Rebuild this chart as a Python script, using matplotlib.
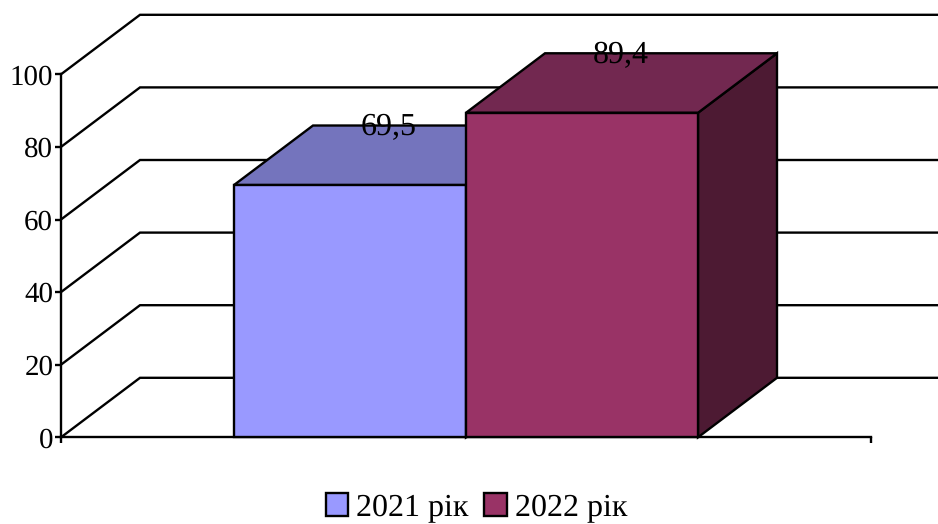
import matplotlib
matplotlib.use("Agg")
import matplotlib.pyplot as plt
from matplotlib.patches import Polygon, Rectangle

series = ["2021 рік", "2022 рік"]
values = [69.5, 89.4]
labels = ["69,5", "89,4"]
yticks = [0, 20, 40, 60, 80, 100]
front = ["#9999ff", "#993366"]
top = ["#7474bd", "#722850"]
side = ["#4d4d80", "#4d1a33"]

W, H = 938, 524
plt.rcParams["font.family"] = ["Liberation Serif", "DejaVu Serif"]
plt.rcParams["text.hinting"] = "no_hinting"
plt.rcParams["text.hinting_factor"] = 1
fig = plt.figure(figsize=(W / 100, H / 100), dpi=100)
ax = fig.add_axes([61 / W, 1 - 437.3 / H, 810 / W, 363 / H])
ax.set_xlim(0, 1)
ax.set_ylim(0, 100)
ax.patch.set_visible(False)

dx = 79 / 810
dy = 59.5 / 363 * 100
bw = 232 / 810
x0 = 0.5 - bw
LW = 1.7

for s in ["top", "right"]:
    ax.spines[s].set_visible(False)
for s in ["left", "bottom"]:
    ax.spines[s].set_linewidth(LW)
ax.set_yticks(yticks)
ax.set_xticks([0, 1])
ax.set_xticklabels([])
ax.tick_params(axis="y", labelsize=21, length=4, width=LW, pad=1.6)
ax.tick_params(axis="x", length=4, width=LW, direction="out")

for t in yticks:
    ax.plot([0, dx, 1 + dx], [t, t + dy, t + dy], color="black", lw=LW, clip_on=False,
            solid_joinstyle="miter", zorder=1)

for i, (v, lab) in enumerate(zip(values, labels)):
    l = x0 + i * bw
    r = l + bw
    z = 3 + i
    ax.add_patch(Polygon([(r, 0), (r + dx, dy), (r + dx, v + dy), (r, v)], closed=True,
                         fc=side[i], ec="black", lw=LW, clip_on=False, zorder=z, joinstyle="miter"))
    ax.add_patch(Polygon([(l, v), (l + dx, v + dy), (r + dx, v + dy), (r, v)], closed=True,
                         fc=top[i], ec="black", lw=LW, clip_on=False, zorder=z, joinstyle="miter"))
    ax.add_patch(Rectangle((l, 0), bw, v, fc=front[i], ec="black", lw=LW, clip_on=False,
                           zorder=z, joinstyle="miter"))
    ax.text(l + bw / 2 + dx / 2 - 1 / 810, v + dy * 0.965, lab, ha="center", va="center", fontsize=23,
            zorder=10, clip_on=False)

handles = [Rectangle((0, 0), 1, 1, fc=c, ec="black", lw=LW) for c in front]
fig.legend(handles, series, loc="center", bbox_to_anchor=(476.5 / W, 1 - 508 / H), ncol=2, frameon=False,
           fontsize=23, handlelength=0.7, handleheight=0.7, handletextpad=0.25,
           columnspacing=0.5, borderpad=0)
fig.savefig("out.png", dpi=100)
